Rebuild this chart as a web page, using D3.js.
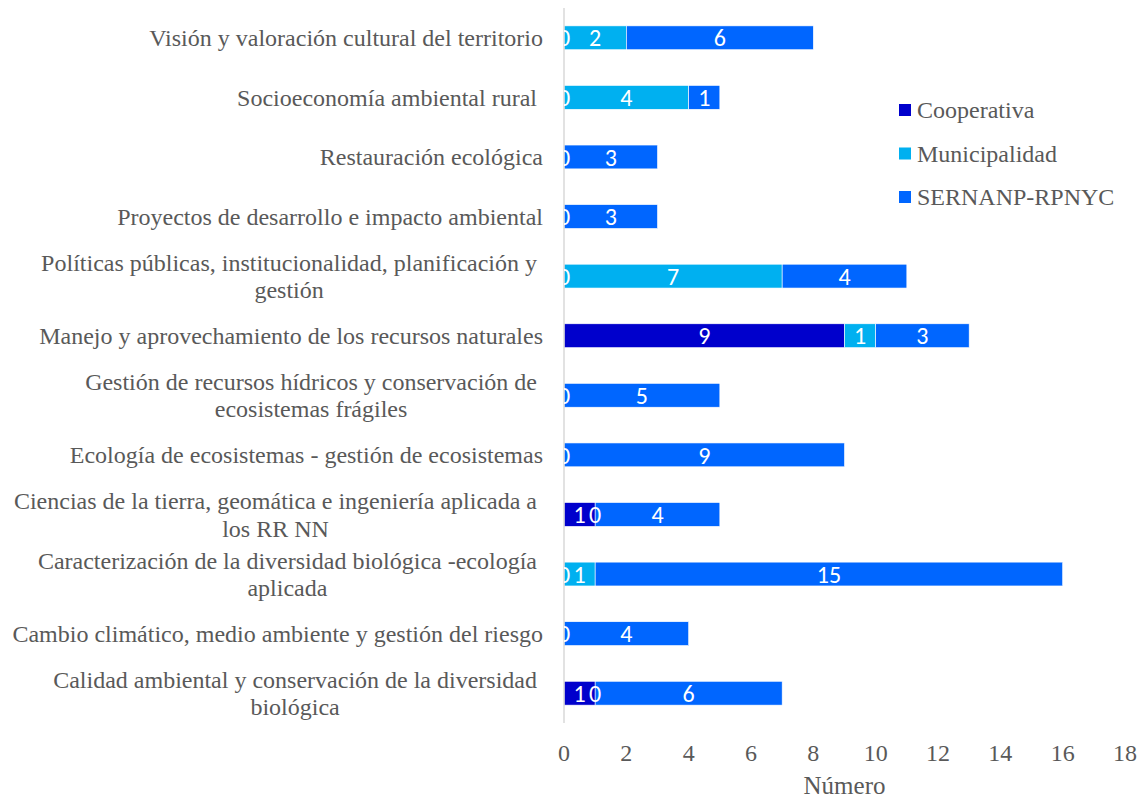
<!DOCTYPE html>
<html>
<head>
<meta charset="utf-8">
<script src="https://cdn.jsdelivr.net/npm/d3@7"></script>
<style>
  html, body { margin: 0; padding: 0; background: #fff; }
  svg { display: block; }
</style>
</head>
<body>
<svg id="chart" width="1145" height="800"></svg>
<script>
// Thematic areas, listed top to bottom
const categories = [
  "Visión y valoración cultural del territorio",
  "Socioeconomía ambiental rural ",
  "Restauración ecológica",
  "Proyectos de desarrollo e impacto ambiental",
  "Políticas públicas, institucionalidad, planificación y gestión",
  "Manejo y aprovechamiento de los recursos naturales",
  "Gestión de recursos hídricos y conservación de ecosistemas frágiles",
  "Ecología de ecosistemas - gestión de ecosistemas",
  "Ciencias de la tierra, geomática e ingeniería aplicada a los RR NN",
  "Caracterización de la diversidad biológica -ecología aplicada",
  "Cambio climático, medio ambiente y gestión del riesgo",
  "Calidad ambiental y conservación de la diversidad biológica"
];

const seriesNames = ["Cooperativa", "Municipalidad", "SERNANP-RPNYC"];

// null = no value recorded (no segment, no label)
const cooperativa   = [0, 0, 0, 0, 0, 9, 0, 0, 1, 0, 0, 1];
const municipalidad = [2, 4, null, null, 7, 1, null, null, 0, 1, null, 0];
const sernanp       = [6, 1, 3, 3, 4, 3, 5, 9, 4, 15, 4, 6];

const xTicks = [0, 2, 4, 6, 8, 10, 12, 14, 16, 18];
const xTitle = "Número";

const colors = ["#0000CC", "#00B0F0", "#0066FF"];

const svg = d3.select("#chart");
const plot = { left: 564, right: 1125, top: 8, bottom: 723 };

const x = d3.scaleLinear().domain([0, 18]).range([plot.left, plot.right]);
const y = d3.scaleBand().domain(categories).range([plot.top, plot.bottom]).paddingInner(0.6).paddingOuter(0.3);

const seriesValues = [cooperativa, municipalidad, sernanp];
const rows = categories.map((c, i) => {
  const r = { cat: c };
  seriesNames.forEach((s, k) => { r[s] = seriesValues[k][i] == null ? 0 : seriesValues[k][i]; });
  return r;
});
const stacked = d3.stack().keys(seriesNames)(rows);

svg.append("defs").append("clipPath").attr("id", "plotClip")
  .append("rect").attr("x", plot.left).attr("y", plot.top)
  .attr("width", plot.right - plot.left + 20).attr("height", plot.bottom - plot.top);

// Bars
const layers = svg.append("g").selectAll("g").data(stacked).join("g")
  .attr("fill", (d, k) => colors[k]);
layers.selectAll("rect")
  .data((d, k) => d.map((v, i) => ({ v, i, k })).filter(o => seriesValues[o.k][o.i] != null && seriesValues[o.k][o.i] > 0))
  .join("rect")
  .attr("x", o => x(o.v[0]))
  .attr("y", o => y(categories[o.i]))
  .attr("width", o => x(o.v[1]) - x(o.v[0]))
  .attr("height", y.bandwidth())
  .attr("stroke", "#ffffff")
  .attr("stroke-width", 0.6);

// Vertical category axis line
svg.append("line")
  .attr("x1", plot.left).attr("x2", plot.left)
  .attr("y1", plot.top).attr("y2", plot.bottom)
  .attr("stroke", "#d9d9d9").attr("stroke-width", 1.5);

// Value labels inside segments
const labelG = svg.append("g").attr("clip-path", "url(#plotClip)");
stacked.forEach((layer, k) => {
  layer.forEach((v, i) => {
    const val = seriesValues[k][i];
    if (val == null) return;
    labelG.append("text")
      .attr("x", x((v[0] + v[1]) / 2))
      .attr("y", y(categories[i]) + y.bandwidth() / 2)
      .attr("dy", "0.36em")
      .attr("text-anchor", "middle")
      .attr("fill", "#ffffff")
      .style("font-family", "Carlito, Calibri, sans-serif")
      .style("font-size", "24px")
      .text(val);
  });
});

// Category labels: wrapped, lines centred, block right-aligned at the axis
const catFont = "'Liberation Serif', 'Times New Roman', serif";
const catSize = 24;
const maxW = 540;
const lineH = 27.5;
const labelRight = plot.left - 21;
const catG = svg.append("g");
const measure = svg.append("text").style("font-family", catFont).style("font-size", catSize + "px");
const textW = s => { measure.text(s); return measure.node().getComputedTextLength(); };
const spaceW = textW("a a") - textW("aa");

categories.forEach(c => {
  const trailing = / $/.test(c);
  const words = c.trim().split(" ");
  const lines = [];
  let cur = [];
  words.forEach(w => {
    const test = cur.concat([w]).join(" ");
    if (textW(test) > maxW && cur.length) {
      lines.push(cur.join(" "));
      cur = [w];
    } else cur.push(w);
  });
  lines.push(cur.join(" "));
  // a broken line keeps its trailing space, as does a label ending in one
  const hasSpace = lines.length > 1 || trailing;
  const blockW = d3.max(lines, l => textW(l)) + (hasSpace ? spaceW : 0);
  const cx = labelRight - blockW / 2 - (hasSpace ? spaceW / 2 : 0);
  const cy = y(c) + y.bandwidth() / 2;
  const t = catG.append("text")
    .style("font-family", catFont).style("font-size", catSize + "px").attr("fill", "#595959");
  lines.forEach((l, j) => {
    t.append("tspan")
      .attr("x", cx)
      .attr("y", cy + (j - (lines.length - 1) / 2) * lineH)
      .attr("dy", "0.35em")
      .attr("text-anchor", "middle")
      .text(l);
  });
});
measure.remove();

// X axis tick labels
svg.append("g").selectAll("text").data(xTicks).join("text")
  .attr("x", d => x(d))
  .attr("y", 753)
  .attr("dy", "0.35em")
  .attr("text-anchor", "middle")
  .attr("fill", "#595959")
  .style("font-family", catFont).style("font-size", "24px")
  .text(d => d);

svg.append("text")
  .attr("x", (plot.left + plot.right) / 2)
  .attr("y", 785)
  .attr("dy", "0.35em")
  .attr("text-anchor", "middle")
  .attr("fill", "#595959")
  .style("font-family", catFont).style("font-size", "25px")
  .text(xTitle);

// Legend
const legend = svg.append("g");
seriesNames.forEach((s, k) => {
  const ly = 110 + k * 43.5;
  legend.append("rect").attr("x", 899).attr("y", ly - 6).attr("width", 12).attr("height", 12).attr("fill", colors[k]);
  legend.append("text").attr("x", 917).attr("y", ly).attr("dy", "0.35em")
    .attr("fill", "#595959")
    .style("font-family", catFont).style("font-size", "24px")
    .text(s);
});
</script>
</body>
</html>
